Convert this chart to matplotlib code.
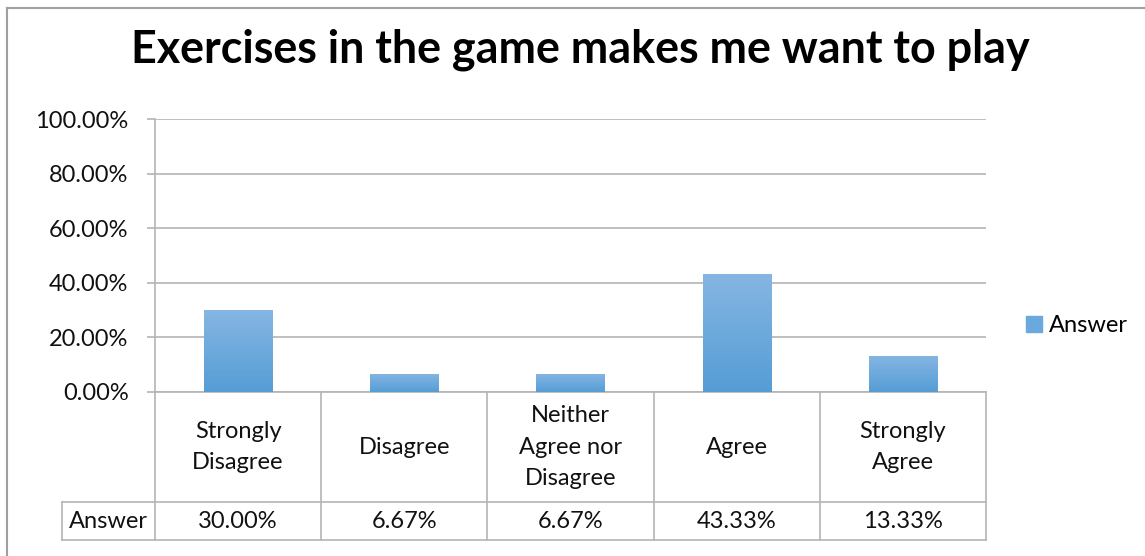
import numpy as np
import matplotlib.pyplot as plt
from matplotlib.lines import Line2D
from matplotlib.patches import Patch
from matplotlib.colors import LinearSegmentedColormap

# Datos
categorias = ["Strongly\nDisagree", "Disagree", "Neither\nAgree nor\nDisagree",
              "Agree", "Strongly\nAgree"]
valores = [30.00, 6.67, 6.67, 43.33, 13.33]
serie = "Answer"
titulo = "Exercises in the game makes me want to play"
yticks = [0, 20, 40, 60, 80, 100]

W, H = 1145, 556
fig = plt.figure(figsize=(W / 100, H / 100), dpi=100)
plt.rcParams['font.family'] = ['Lato', 'DejaVu Sans']
fs = 17

# area del grafico en pixeles
x0, x1, ytop, ybot = 155, 986, 119, 392
ax = fig.add_axes([x0 / W, 1 - ybot / H, (x1 - x0) / W, (ybot - ytop) / H])

gris = '#b4b4b4'
x = np.arange(len(categorias))
barras = ax.bar(x, valores, width=0.41, color='#6aa9dd', zorder=2)

# degradado en cada barra
cmap = LinearSegmentedColormap.from_list('azul', ['#559dd5', '#86b6e3'])
grad = np.linspace(0, 1, 256).reshape(-1, 1)
for b in barras:
    bx, by = b.get_x(), b.get_y()
    im = ax.imshow(grad, cmap=cmap, origin='lower', aspect='auto',
                   extent=[bx, bx + b.get_width(), by, by + b.get_height()],
                   zorder=3)
    im.set_clip_path(b)

ax.set_xlim(-0.5, len(categorias) - 0.5)
ax.set_ylim(0, 100)
ax.set_yticks(yticks)
ax.set_yticklabels([f"{v:.2f}%" for v in yticks], fontsize=fs, color='#111111')
ax.set_xticks([])
ax.tick_params(axis='y', length=6, color=gris, width=1.2, pad=13)
ax.grid(axis='y', color=gris, linewidth=1.2, zorder=0)
for s in ['top', 'right']:
    ax.spines[s].set_visible(False)
ax.spines['left'].set_color(gris)
ax.spines['bottom'].set_color(gris)
ax.spines['left'].set_linewidth(1.2)
ax.spines['bottom'].set_linewidth(1.2)

# tabla de datos debajo
def fy(py):
    return 1 - py / H

fila1, fila2 = 502, 540
trx = fig.transFigure
for i in range(len(categorias) + 1):
    xi = i - 0.5
    xf = trx.inverted().transform(ax.transData.transform((xi, 0)))[0]
    fig.add_artist(Line2D([xf, xf], [fy(ybot), fy(fila2)], color=gris, lw=1.2))
xl = 62 / W
xr = x1 / W
fig.add_artist(Line2D([xl, xr], [fy(fila1), fy(fila1)], color=gris, lw=1.2))
fig.add_artist(Line2D([xl, xr], [fy(fila2), fy(fila2)], color=gris, lw=1.2))
fig.add_artist(Line2D([xl, xl], [fy(fila1), fy(fila2)], color=gris, lw=1.2))

for i, (c, v) in enumerate(zip(categorias, valores)):
    xf = trx.inverted().transform(ax.transData.transform((i, 0)))[0]
    fig.text(xf, fy((ybot + fila1) / 2), c, ha='center', va='center',
             fontsize=fs, color='#111111', linespacing=1.6)
    fig.text(xf, fy((fila1 + fila2) / 2 + 1), f"{v:.2f}%", ha='center', va='center',
             fontsize=fs, color='#111111')
fig.text((xl + x0 / W) / 2, fy((fila1 + fila2) / 2), serie, ha='center', va='center',
         fontsize=fs, color='#111111')

# titulo
fig.text(580 / W, fy(50), titulo, ha='center', va='center', fontsize=32.3,
         fontweight='bold', color='black')

# leyenda
fig.legend(handles=[Patch(color='#6aa9dd', label=serie)], loc='center left',
           bbox_to_anchor=(1017 / W, fy(326)), frameon=False, fontsize=fs,
           handlelength=0.65, handleheight=0.65, handletextpad=0.3,
           borderaxespad=0)

# borde del grafico
fig.add_artist(Line2D([7 / W, 7 / W], [0, fy(8)], color='#a0a0a0', lw=1.5))
fig.add_artist(Line2D([7 / W, 1], [fy(8), fy(8)], color='#a0a0a0', lw=1.5))

fig.savefig('out.png', dpi=100)
